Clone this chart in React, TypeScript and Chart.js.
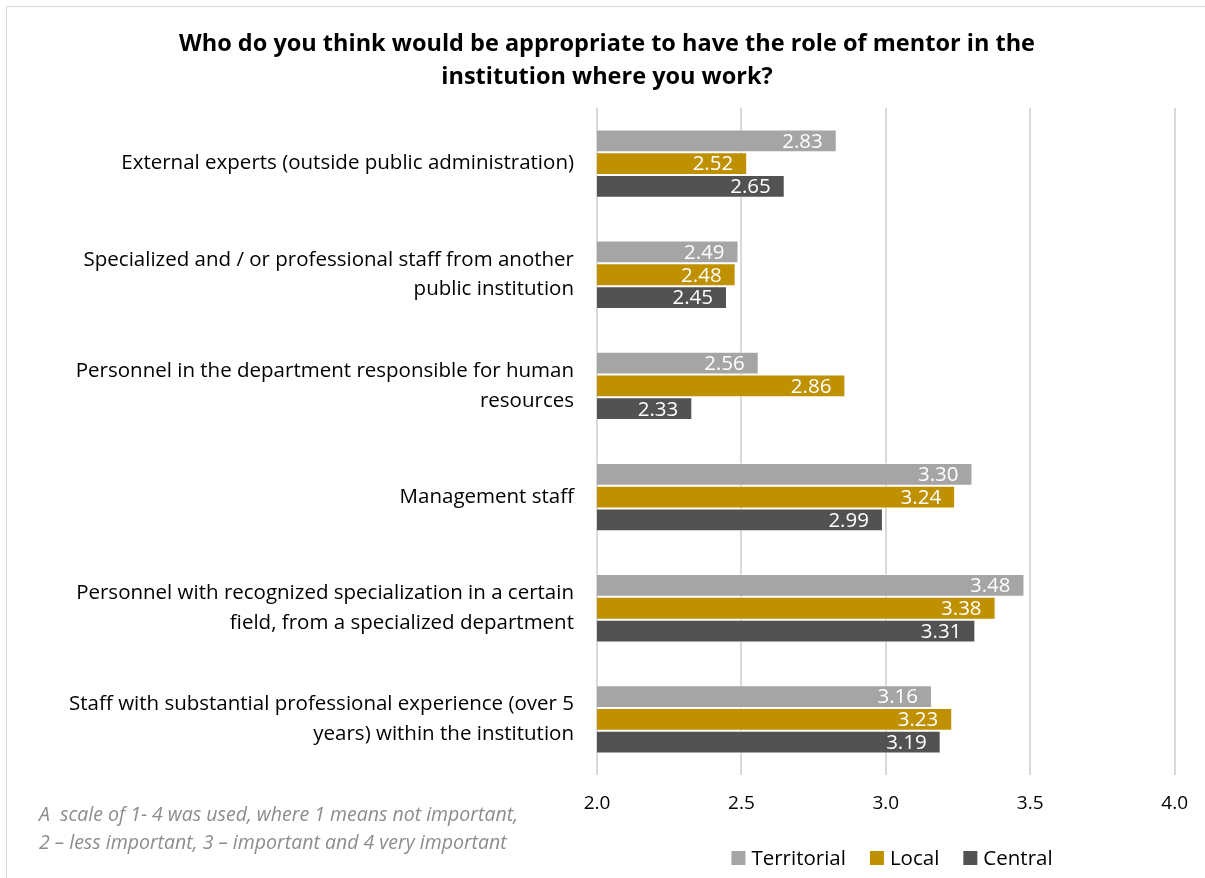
import React, { useEffect, useRef } from "react";
import { Chart, registerables } from "chart.js";

Chart.register(...registerables);

const categories: string[][] = [
  ["External experts (outside public administration)"],
  ["Specialized and / or professional staff from another", "public institution"],
  ["Personnel in the department responsible for human", "resources"],
  ["Management staff"],
  ["Personnel with recognized specialization in a certain", "field, from a specialized department"],
  ["Staff with substantial professional experience (over 5", "years) within the institution"],
];
const territorial = [2.83, 2.49, 2.56, 3.3, 3.48, 3.16];
const local = [2.52, 2.48, 2.86, 3.24, 3.38, 3.23];
const central = [2.65, 2.45, 2.33, 2.99, 3.31, 3.19];
const seriesNames = ["Territorial", "Local", "Central"];
const seriesColors = ["#A5A5A5", "#BF9000", "#525252"];
const titleLines = [
  "Who do you think would be appropriate to have the role of mentor in the",
  "institution where you work?",
];
const noteLines = [
  "A  scale of 1- 4 was used, where 1 means not important,",
  "2 – less important, 3 – important and 4 very important",
];

const FONT = "'Open Sans', 'Noto Sans', sans-serif";

const extrasPlugin = {
  id: "extras",
  afterDatasetsDraw(chart: any) {
    const ctx = chart.ctx;
    ctx.save();
    ctx.font = `20.5px ${FONT}`;
    ctx.fillStyle = "#ffffff";
    ctx.textAlign = "right";
    ctx.textBaseline = "middle";
    chart.data.datasets.forEach((ds: any, di: number) => {
      const meta = chart.getDatasetMeta(di);
      meta.data.forEach((bar: any, i: number) => {
        ctx.fillText(Number(ds.data[i]).toFixed(2), bar.x - 14, bar.y + 1);
      });
    });
    ctx.restore();
  },
  afterDraw(chart: any) {
    const ctx = chart.ctx;
    ctx.save();
    // title
    ctx.fillStyle = "#000000";
    ctx.font = `bold 23.5px ${FONT}`;
    ctx.textAlign = "center";
    ctx.textBaseline = "middle";
    titleLines.forEach((t, i) => ctx.fillText(t, 607, 44 + i * 33));
    // note
    ctx.fillStyle = "#8c8c8c";
    ctx.font = `italic 19.5px ${FONT}`;
    ctx.textAlign = "left";
    noteLines.forEach((t, i) => ctx.fillText(t, 39, 815 + i * 28));
    // legend
    ctx.font = `20.5px ${FONT}`;
    const items = chart.data.datasets.map((d: any) => d.label);
    const sq = 14;
    const gap = 6;
    const itemGap = 24;
    const widths = items.map((t: string) => sq + gap + ctx.measureText(t).width);
    const total = widths.reduce((a: number, b: number) => a + b, 0) + itemGap * (items.length - 1);
    let x = 892 - total / 2;
    const y = 858;
    items.forEach((t: string, i: number) => {
      ctx.fillStyle = seriesColors[i];
      ctx.fillRect(x, y - sq / 2, sq, sq);
      ctx.fillStyle = "#000000";
      ctx.textBaseline = "middle";
      ctx.fillText(t, x + sq + gap, y + 1);
      x += widths[i] + itemGap;
    });
    ctx.restore();
  },
};

export default function App() {
  const ref = useRef<HTMLCanvasElement>(null);
  useEffect(() => {
    if (!ref.current) return;
    const chart = new Chart(ref.current, {
      type: "bar",
      data: {
        labels: categories,
        datasets: [territorial, local, central].map((d, i) => ({
          label: seriesNames[i],
          data: d,
          backgroundColor: seriesColors[i],
          borderColor: "rgba(255,255,255,0.6)",
          borderWidth: 1,
          categoryPercentage: 0.615,
          barPercentage: 1,
        })),
      },
      options: {
        indexAxis: "y",
        responsive: false,
        animation: false,
        layout: { padding: { left: 0, right: 26, top: 108, bottom: 63 } },
        plugins: {
          legend: { display: false },
          title: { display: false },
          tooltip: { enabled: false },
        },
        scales: {
          x: {
            min: 2,
            max: 4,
            ticks: {
              stepSize: 0.5,
              callback: (v: any) => Number(v).toFixed(1),
              color: "#000000",
              font: { family: FONT, size: 19 },
              padding: 17,
            },
            grid: { color: "#d9d9d9", lineWidth: 2, drawTicks: false },
            border: { display: false },
            afterFit: (s: any) => {
              s.height = 40;
            },
          },
          y: {
            ticks: {
              color: "#000000",
              font: { family: FONT, size: 20.5, lineHeight: 1.45 },
              padding: 15,
            },
            grid: { display: false },
            border: { display: false },
            afterFit: (s: any) => {
              s.width = 597;
            },
          },
        },
      },
      plugins: [extrasPlugin],
    });
    return () => chart.destroy();
  }, []);
  return (
    <div style={{ position: "absolute", left: 0, top: 0, width: 1205, height: 878, background: "#fff", overflow: "hidden" }}>
      <div style={{ position: "absolute", left: 6, top: 6, width: 1220, height: 900, border: "1px solid #d9d9d9" }} />
      <canvas ref={ref} width={1205} height={878} style={{ position: "absolute", left: 0, top: 0 }} />
    </div>
  );
}
